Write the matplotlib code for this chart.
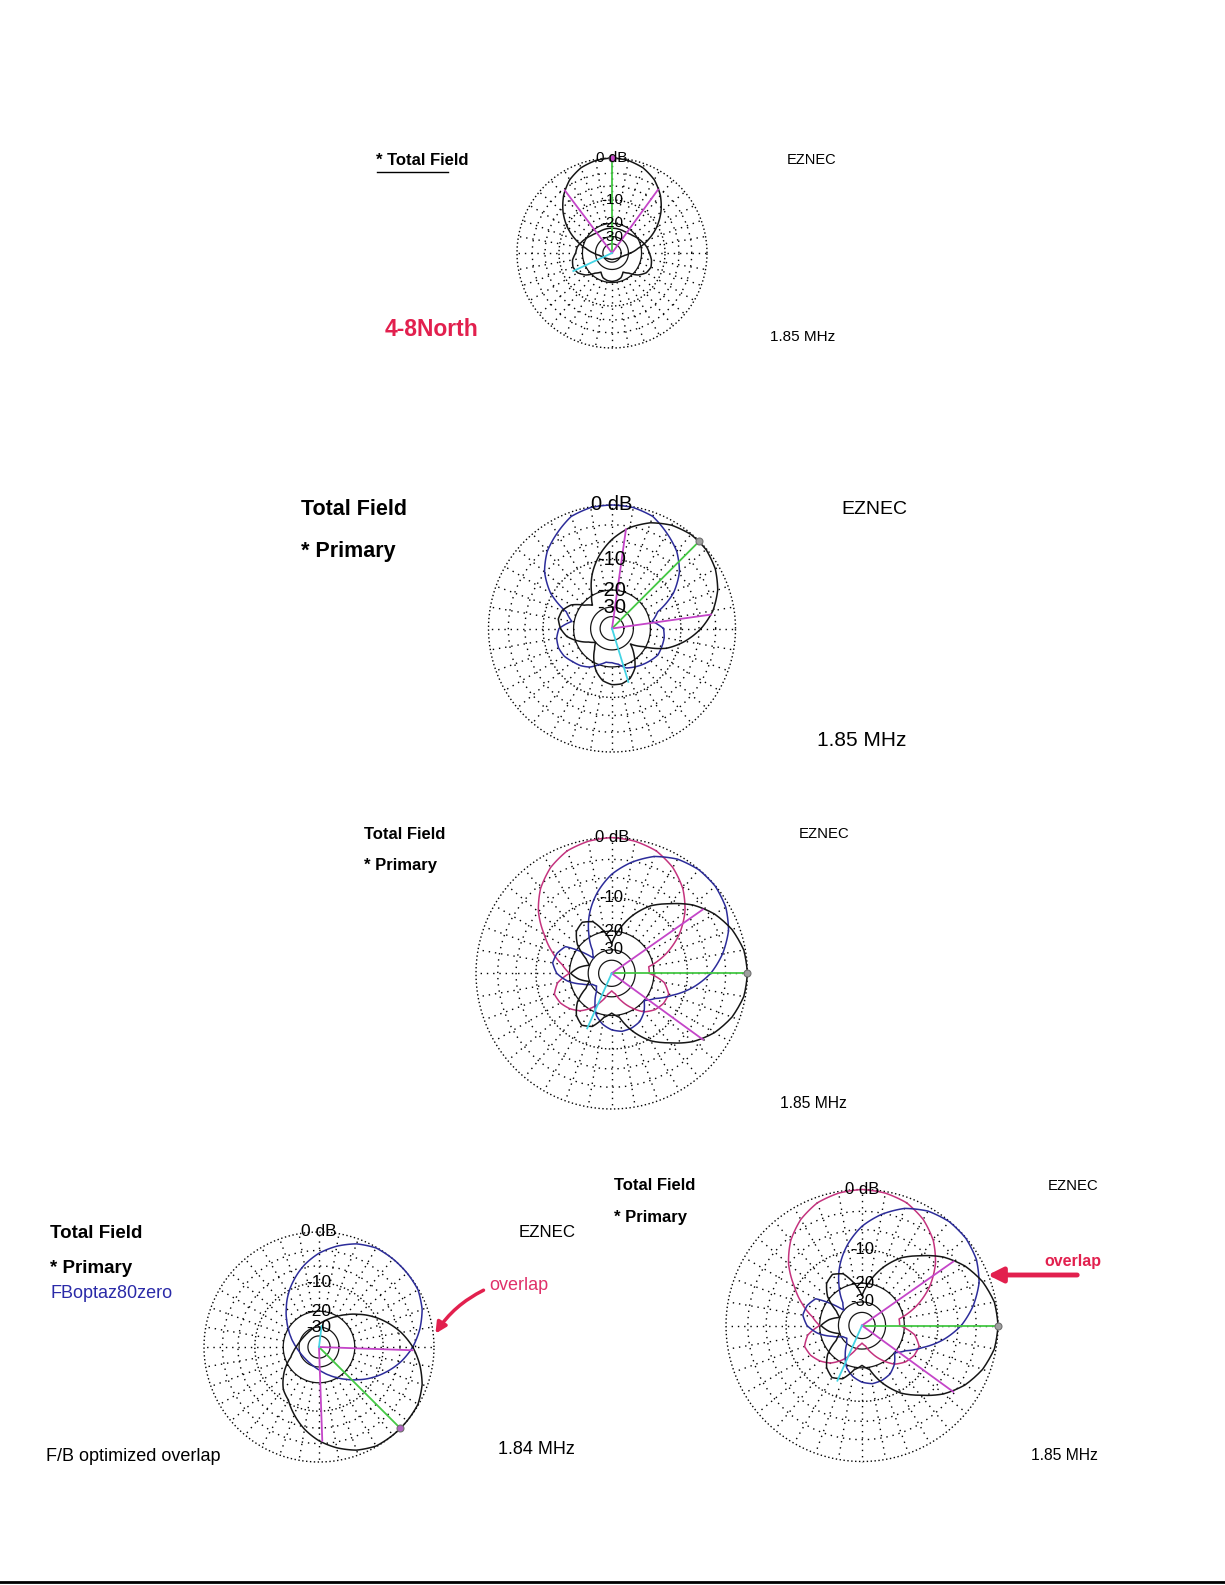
import numpy as np
import matplotlib.pyplot as plt
from matplotlib.lines import Line2D

plt.rcParams['font.family'] = ['Liberation Sans', 'DejaVu Sans']

W, H = 1225, 1585

# azimuth in degrees, counter-clockwise from east (EZNEC style)
AZIMUTH_DEG = list(range(0, 360, 10))

# ---- plot 1: 4-8North ----
P1_BLACK_MAIN = [-28, -22, -15.5, -10.5, -6.8, -4.0, -2.0, -0.8, -0.2, 0,
                 -0.2, -0.8, -2.0, -4.0, -6.8, -10.5, -15.5, -22, -28, -34,
                 -38, -40, -42, -44, -45, -46, -46, -46, -46, -46,
                 -45, -44, -42, -40, -38, -34]
P1_BLACK_INNER = [-16, -17, -18.5, -20, -21.5, -22.5, -23, -23, -23, -23,
                  -23, -23, -23, -22.5, -21.5, -20, -18.5, -17, -16.5, -14.8,
                  -14.2, -15, -17.5, -22, -25, -22, -21, -20.7, -21, -22,
                  -25, -22, -17.5, -15, -14.2, -14.8]
P1_MAX = [90, 0.0]
P1_BW = [[54, -3.3], [127, -3.3]]
P1_REAR = [205, -13.7]

# ---- plot 2 ----
P2_BLUE = [-15, -19, -16, -9.5, -5.8, -3.5, -2, -0.6, -0.1, 0,
           -0.1, -0.6, -2, -3.5, -5.8, -9.5, -16, -19, -14.5, -13.5,
           -13.3, -13.8, -15, -16, -17.5, -20, -22, -22, -21, -18.5,
           -17.5, -16.5, -15.5, -14.5, -14.5, -14.5]
P2_BLACK = [-5.6, -3.2, -1.6, -0.6, -0.1, -0.1, -0.6, -1.6, -3.2, -5.6,
            -8.8, -13, -19, -24, -21, -16.5, -14.5, -14, -15, -17,
            -21, -26, -30, -26, -21, -17, -14.5, -13.5, -13.5, -14.5,
            -17, -22, -28, -21, -13, -8.8]
P2_MAX = [45, 0.0]
P2_BW = [[82, -3.6], [8, -3.6]]
P2_REAR = [287, -13.6]

# ---- plot 3 (same run shown again in plot 5) ----
P3_PINK = [-22, -22, -14.5, -9.5, -6, -3.5, -1.8, -0.7, -0.2, 0,
           -0.2, -0.7, -1.8, -3.5, -6, -9.5, -13, -17, -20, -15.5,
           -13.7, -14.2, -15.5, -17.5, -21, -26, -32, -35, -32, -26,
           -21, -17, -15, -14, -13.8, -16]
P3_BLUE = [-5.4, -3.2, -1.5, -0.5, -0.05, -0.05, -0.5, -1.5, -3.2, -5.4,
           -8.6, -12.8, -18.6, -26, -30, -16, -14.5, -14, -15.5, -19,
           -25, -31, -33, -30, -24, -19, -16.5, -15, -14.3, -14.5,
           -15.2, -17, -20, -17, -12.8, -8.6]
P3_BLACK = [0, -0.2, -1.0, -2.3, -4.2, -6.9, -9.5, -13.5, -19, -26,
            -20, -15.5, -14.3, -15.5, -19, -26, -30, -24, -20.5, -24,
            -30, -26, -19, -15.5, -14, -15, -19, -21, -19, -13.5,
            -9.5, -6.9, -4.2, -2.3, -1.0, -0.2]
P3_MAX = [0, 0.0]
P3_BW = [[35, -3.4], [324, -3.2]]
P3_REAR = [246, -13.9]

# ---- plot 4: FBoptaz80zero, 1.84 MHz ----
P4_BLUE = [-3.5, -2.0, -0.8, -0.1, 0, 0, -0.1, -0.8, -2.0, -3.5,
           -5.5, -8, -10.8, -14, -17.2, -20.3, -23, -25.5, -27.7, -29.3,
           -30.5, -31.3, -31.7, -31.7, -31.3, -30.5, -29.3, -27.7, -25.5, -23,
           -20.3, -17.2, -14, -10.8, -8, -5.5]
P4_BLACK = [-3.5, -5.5, -8, -10.8, -14, -17.2, -20.3, -23, -25.5, -27.7,
            -29.3, -30.5, -31.3, -31.7, -31.7, -31.3, -30.5, -29.3, -27.7, -25.5,
            -23, -19, -15.5, -12.5, -10.8, -8, -5.5, -3.5, -2.0, -0.8,
            -0.1, 0, 0, -0.1, -0.8, -2.0]
P4_MAX = [315, 0.0]
P4_BW = [[358, -3.5], [272, -3.5]]
P4_REAR = [83, -29]

RING_LABELS = ['0 dB', '-10', '-20', '-30']
RING_DB = [0, -10, -20, -30]

BLACK = '#151515'
BLUE = '#2c2c9a'
PINK = '#c4337e'
VIOLET = '#c445c8'
GREEN = '#44c844'
CYAN = '#44d4e4'
RED = '#e2204e'


def arrl_fwd(db):
    # ARRL log scale: 2 dB per 0.89 of radius
    return 0.89 ** (-np.asarray(db, dtype=float) / 2.0)


def arrl_inv(r):
    return -2.0 * np.log(np.clip(np.asarray(r, dtype=float), 1e-12, None)) / np.log(0.89)


def pattern_axes(fig, cx, cy, R, fs):
    ax = fig.add_axes([(cx - R) / W, 1 - (cy + R) / H, 2 * R / W, 2 * R / H],
                      projection='polar')
    ax.set_rscale('function', functions=(arrl_fwd, arrl_inv))
    ax.set_rlim(-120, 0)
    ax.set_xticks([])
    ax.set_yticks([])
    ax.grid(False)
    ax.spines['polar'].set_visible(False)
    ax.patch.set_alpha(0)

    ring = np.linspace(0, 2 * np.pi, 721)
    for db, ls in [(0, (0, (1, 1.8))), (-3, (0, (1, 3.5))), (-6, (0, (1, 3.5))),
                   (-10, (0, (1, 1.8)))]:
        ax.plot(ring, np.full_like(ring, db), color='k', lw=1.0, ls=ls,
                clip_on=False, zorder=1)
    for db in (-20, -30, -40):
        ax.plot(ring, np.full_like(ring, db), color=BLACK, lw=0.9,
                clip_on=False, zorder=1)
    for a in range(0, 360, 10):
        t = np.radians(a)
        ax.plot([t, t], [-20, 0], color='k', lw=1.0, ls=(0, (1, 3.5)),
                clip_on=False, zorder=1)
    for lab, db in zip(RING_LABELS, RING_DB):
        ax.text(np.pi / 2, db, lab, ha='center', va='center', fontsize=fs,
                color='k', zorder=6)
    return ax


def trace(ax, vals, color, lw=1.1):
    th = np.radians(AZIMUTH_DEG + [360])
    ln, = ax.plot(th, list(vals) + [vals[0]], color=color, lw=lw,
                  clip_on=False, zorder=3)
    # let the polar projection bend each segment instead of drawing chords
    ln.get_path()._interpolation_steps = 12


def cursors(ax, mx, bw, rear, dot=None):
    t = np.radians(mx[0])
    ax.plot([t, t], [-120, mx[1]], color=GREEN, lw=1.3, clip_on=False, zorder=4)
    for az, db in bw:
        ta = np.radians(az)
        ax.plot([ta, ta], [-120, db], color=VIOLET, lw=1.3, clip_on=False, zorder=4)
    tr = np.radians(rear[0])
    ax.plot([tr, tr], [-120, rear[1]], color=CYAN, lw=1.3, clip_on=False, zorder=4)
    ax.plot([t], [mx[1]], 'o', ms=5, mfc=dot or '#a0a0a0', mec='#707070',
            mew=0.8, clip_on=False, zorder=5)


def ftext(x, y, s, fs, bold=False, color='k'):
    fig.text(x / W, 1 - y / H, s, fontsize=fs, color=color, ha='left',
             va='center_baseline', fontweight='bold' if bold else 'normal')


fig = plt.figure(figsize=(W / 100, H / 100), dpi=100)
fig.patch.set_facecolor('white')

# plot 1
ax1 = pattern_axes(fig, 612, 253, 95, 11)
trace(ax1, P1_BLACK_INNER, BLACK)
trace(ax1, P1_BLACK_MAIN, BLACK)
cursors(ax1, P1_MAX, P1_BW, P1_REAR, dot=VIOLET)
ftext(376, 158.7, '* Total Field', 12, bold=True)
fig.add_artist(Line2D([377 / W, 448 / W], [1 - 172 / H] * 2, color='k', lw=1.0))
ftext(787, 158.7, 'EZNEC', 10.5)
ftext(385, 327.5, '4-8North', 16.5, bold=True, color=RED)
ftext(770, 335.5, '1.85 MHz', 11)

# plot 2
ax2 = pattern_axes(fig, 612, 628.5, 123.5, 14.5)
trace(ax2, P2_BLUE, BLUE)
trace(ax2, P2_BLACK, BLACK)
cursors(ax2, P2_MAX, P2_BW, P2_REAR)
ftext(301, 507.4, 'Total Field', 15.5, bold=True)
ftext(301, 548.8, '* Primary', 15.5, bold=True)
ftext(841, 507.4, 'EZNEC', 14)
ftext(816.7, 738.8, '1.85 MHz', 15)

# plot 3
ax3 = pattern_axes(fig, 611.7, 973.3, 135.7, 12)
trace(ax3, P3_PINK, PINK)
trace(ax3, P3_BLUE, BLUE)
trace(ax3, P3_BLACK, BLACK)
cursors(ax3, P3_MAX, P3_BW, P3_REAR)
ftext(364, 832.8, 'Total Field', 12, bold=True)
ftext(364, 864, '* Primary', 12, bold=True)
ftext(798.5, 832.8, 'EZNEC', 10.7)
ftext(780.3, 1101.7, '1.85 MHz', 11.3)

# plot 4
ax4 = pattern_axes(fig, 319, 1347, 115, 12.5)
trace(ax4, P4_BLUE, BLUE)
trace(ax4, P4_BLACK, BLACK)
cursors(ax4, P4_MAX, P4_BW, P4_REAR, dot='#b060c0')
ftext(50.5, 1231, 'Total Field', 13.5, bold=True)
ftext(50.5, 1266.4, '* Primary', 13.5, bold=True)
ftext(50.5, 1291.7, 'FBoptaz80zero', 13, color='#2a2aa8')
ftext(518.5, 1231, 'EZNEC', 12.2)
ftext(489, 1283.6, 'overlap', 13, color='#e0306a')
ftext(498, 1448, '1.84 MHz', 13)
ftext(46.5, 1454.4, 'F/B optimized overlap', 13)
fig.add_artist(plt.Annotation('', xy=(434 / W, 1 - 1336 / H), xytext=(486 / W, 1 - 1289 / H),
                              xycoords='figure fraction', textcoords='figure fraction',
                              arrowprops=dict(arrowstyle='-|>', color=RED, lw=2.5,
                                              mutation_scale=16,
                                              connectionstyle='arc3,rad=0.15')))

# plot 5 (same patterns as plot 3)
ax5 = pattern_axes(fig, 862, 1325.5, 136, 12)
trace(ax5, P3_PINK, PINK)
trace(ax5, P3_BLUE, BLUE)
trace(ax5, P3_BLACK, BLACK)
cursors(ax5, P3_MAX, P3_BW, P3_REAR)
ftext(613.5, 1184.5, 'Total Field', 12, bold=True)
ftext(613.5, 1216, '* Primary', 12, bold=True)
ftext(1048, 1184.5, 'EZNEC', 10.7)
ftext(1044, 1260, 'overlap', 11.5, bold=True, color=RED)
ftext(1031, 1454.4, '1.85 MHz', 11.3)
fig.add_artist(plt.Annotation('', xy=(985 / W, 1 - 1275 / H), xytext=(1080 / W, 1 - 1275 / H),
                              xycoords='figure fraction', textcoords='figure fraction',
                              arrowprops=dict(arrowstyle='-|>', color=RED, lw=3.5,
                                              mutation_scale=22)))

# frame line at the bottom of the page
fig.add_artist(Line2D([0, 1], [1 - 1582 / H] * 2, color='k', lw=2))

fig.savefig('out.png', dpi=100, facecolor='white')
